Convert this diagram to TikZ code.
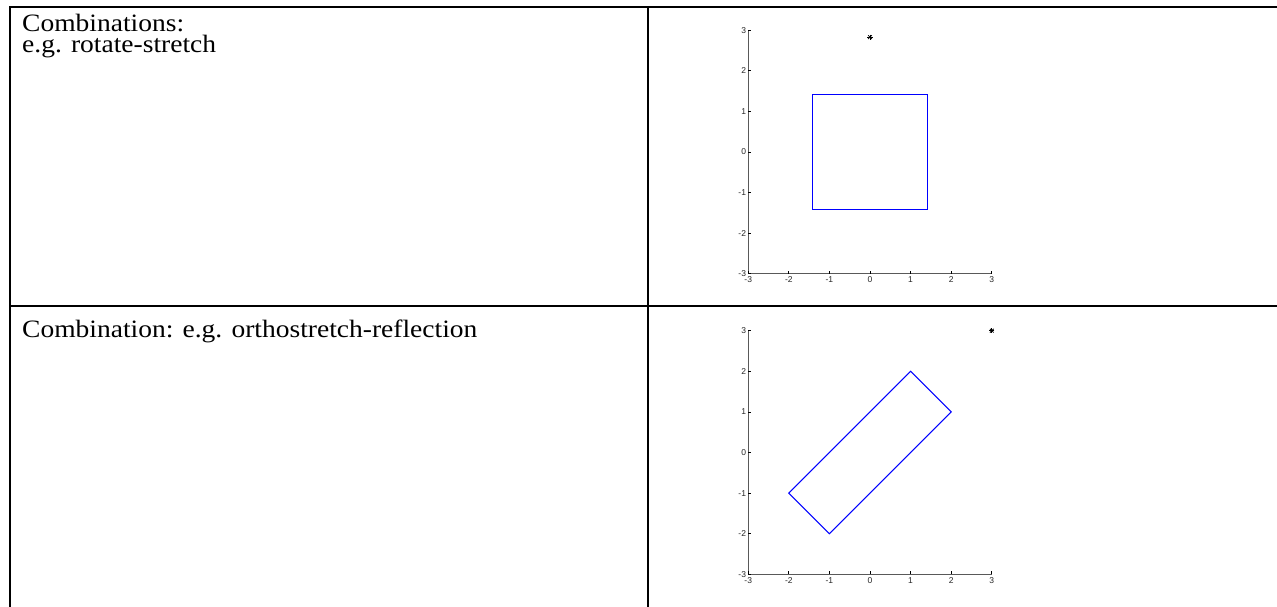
\documentclass[tikz,border=0pt]{standalone}
\usepackage{fontspec}
\setmainfont{Liberation Serif}[FakeStretch=1.1]
\newfontfamily\axfont{Liberation Sans}
\begin{document}
\begin{tikzpicture}[x=1pt,y=1pt,
  tbl/.style={line width=2.5pt, black},
  cell/.style={font=\fontsize{25}{21.5}\selectfont, inner sep=0pt, align=left},
  axline/.style={line width=1.2pt, black!65},
  tk/.style={line width=0.8pt, black},
  tlab/.style={font=\axfont\fontsize{8.5}{8.5}\selectfont, inner sep=0pt, text=black!85},
  shp/.style={blue, line width=1pt},
  starmk/.style={line width=0.8pt, black}
]
\useasboundingbox (0,-607) rectangle (1277,0);
% table
\draw[tbl] (1277,-7) -- (10,-7) -- (10,-607);
\draw[tbl] (648,-7) -- (648,-607);
\draw[tbl] (10,-306) -- (1277,-306);
% texts
\node[cell, anchor=base west] (t1) at (22,-53) {Combinations:\\e.g. rotate-stretch};
\node[cell, anchor=base west] (t3) at (22,-337) {Combination: e.g. orthostretch-reflection};
% plot 1
\begin{scope}[shift={(870,-152)}, x=40.6pt, y=40.6pt]
  \draw[axline] (-3,3) -- (-3,-3) -- (3,-3);
  \foreach \t in {-3,...,3} {
    \draw[tk] (\t,-3) -- ++(0,3pt);
    \node[tlab, anchor=north] (ax\t) at ([yshift=-3pt]\t,-3) {\t};
    \draw[tk] (-3,\t) -- ++(3pt,0);
    \node[tlab, anchor=east] (ay\t) at ([xshift=-2pt]-3,\t) {\t};
  }
  \draw[shp] (-1.4142,-1.4142) rectangle (1.4142,1.4142);
  \foreach \a in {0,45,90,135} \draw[starmk] (0,2.8284) ++(\a:2.6pt) -- ++(\a+180:5.2pt);
\end{scope}
% plot 2
\begin{scope}[shift={(870,-452.5)}, x=40.6pt, y=40.6pt]
  \draw[axline] (-3,3) -- (-3,-3) -- (3,-3);
  \foreach \t in {-3,...,3} {
    \draw[tk] (\t,-3) -- ++(0,3pt);
    \node[tlab, anchor=north] (bx\t) at ([yshift=-3pt]\t,-3) {\t};
    \draw[tk] (-3,\t) -- ++(3pt,0);
    \node[tlab, anchor=east] (by\t) at ([xshift=-2pt]-3,\t) {\t};
  }
  \draw[shp] (1,2) -- (2,1) -- (-1,-2) -- (-2,-1) -- cycle;
  \foreach \a in {0,45,90,135} \draw[starmk] (3,3) ++(\a:2.6pt) -- ++(\a+180:5.2pt);
\end{scope}
\end{tikzpicture}
\end{document}
